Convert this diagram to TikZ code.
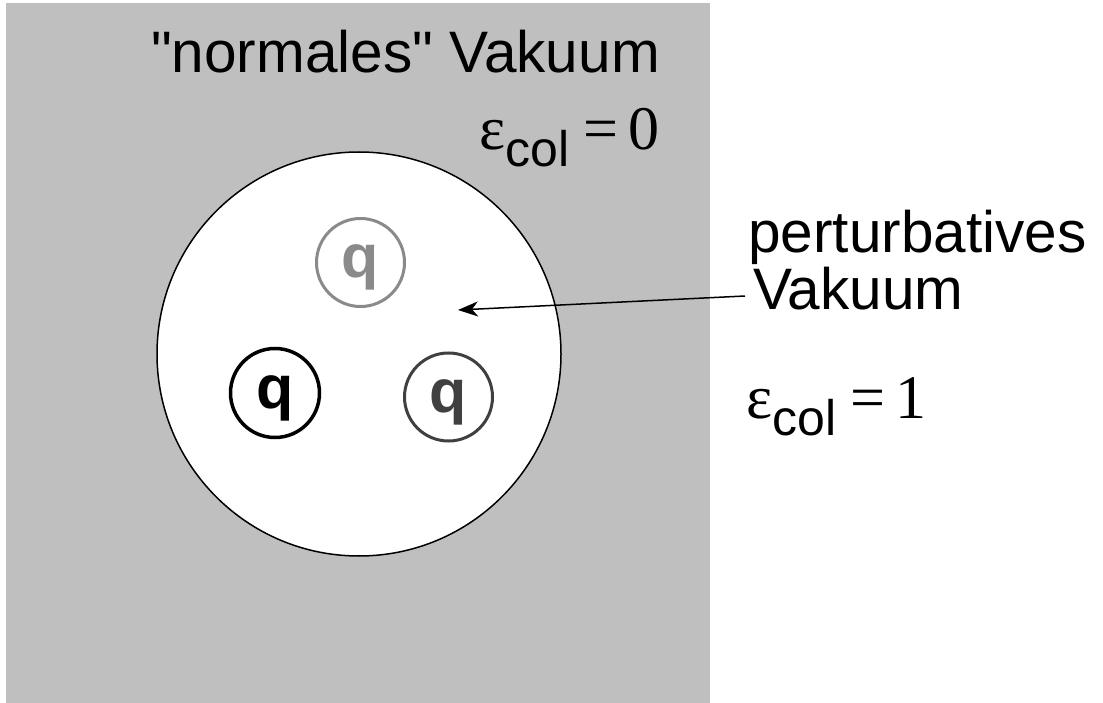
\documentclass[tikz,border=0pt]{standalone}
\usepackage{fontspec}
\setmainfont{Liberation Sans}[Ligatures=TeXOff]
\newfontfamily\serifeps{Liberation Serif}
\usetikzlibrary{arrows.meta}
\definecolor{bggray}{HTML}{BFBFBF}
\definecolor{qlight}{HTML}{8A8A8A}
\definecolor{qdark}{HTML}{404040}
\newcommand{\epscol}[1]{{\serifeps\fontsize{62}{62}\selectfont ε}\raisebox{-17pt}{\fontsize{50}{50}\selectfont col}{\serifeps\fontsize{62}{62}\selectfont\hspace{14pt}=\hspace{10pt}#1}}
\tikzset{
  label58/.style={inner sep=0pt, font=\fontsize{58.5}{58.5}\selectfont},
  quark/.style={circle, draw, line width=3pt, minimum size=88pt, inner sep=0pt, text height=31pt, text depth=0pt, font=\bfseries\fontsize{61}{61}\selectfont},
}
\begin{document}
\begin{tikzpicture}[x=1pt,y=-1pt]
\useasboundingbox (0,0) rectangle (1103,703);
\fill[bggray] (6,3) rectangle (710,703);
\node[circle, draw, fill=white, line width=1.5pt, minimum size=404pt, inner sep=0pt] (bubble) at (359,354) {};
\node[quark, draw=qlight, text=qlight] (q1) at (360.5,262.5) {q};
\node[quark, draw=black, text=black, line width=3.5pt, minimum size=89pt] (q2) at (275,393) {q};
\node[quark, draw=qdark, text=qdark] (q3) at (448.5,397) {q};
\node[label58, anchor=base east] (normal) at (660,73) {"normales" Vakuum};
\node[inner sep=0pt, anchor=base east] (eps0) at (660,150) {\epscol{0}};
\node[label58, anchor=base west] (pert) at (748,253) {perturbatives};
\node[label58, anchor=base west] (vak) at (753,310) {Vakuum};
\node[inner sep=0pt, anchor=base west] (eps1) at (746,418) {\epscol{1}};
\coordinate (arrstart) at (745,296);
\coordinate (arrtip) at (458,310);
\draw[line width=1.5pt, -{Stealth[length=20pt, width=15pt, inset=6pt]}] (arrstart) -- (arrtip);
\end{tikzpicture}
\end{document}
